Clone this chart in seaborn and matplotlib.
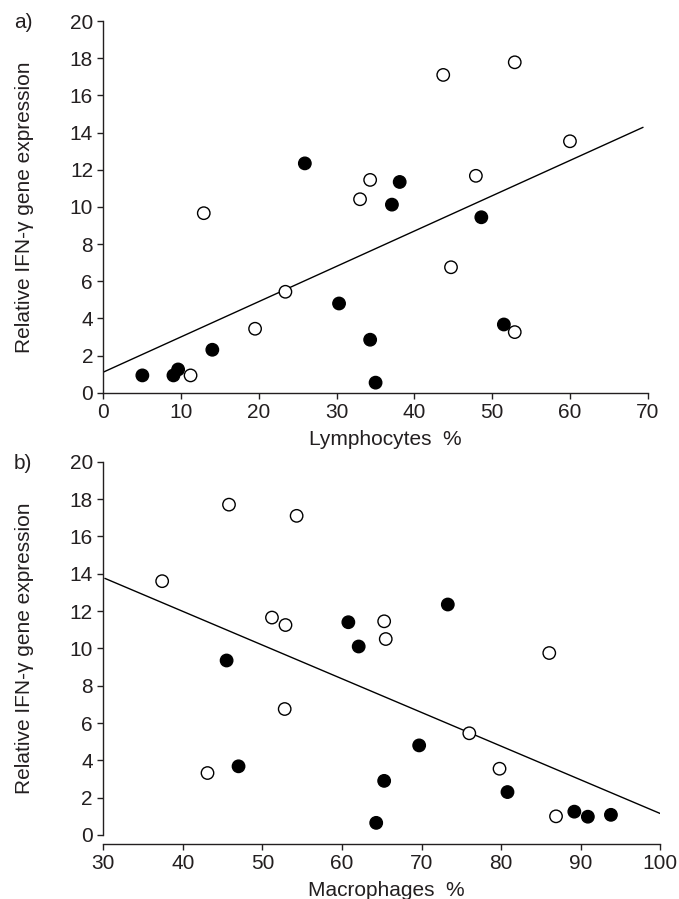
import pandas as pd
import numpy as np

import matplotlib
matplotlib.use("Agg")
import matplotlib.pyplot as plt
import seaborn as sns


# ### Data
# a) lymphocytes %  vs relative IFN-gamma expression
lymph_filled_x = [25.9, 38.1, 37.1, 48.6, 30.3, 34.3, 51.5, 14.0, 5.0, 9.0, 9.6, 35.0]
lymph_filled_y = [12.34, 11.34, 10.12, 9.44, 4.80, 2.85, 3.67, 2.31, 0.93, 0.93, 1.25, 0.54]
lymph_open_x = [12.9, 34.3, 33.0, 43.7, 52.9, 47.9, 60.0, 44.7, 23.4, 19.5, 52.9, 11.2]
lymph_open_y = [9.66, 11.45, 10.41, 17.1, 17.78, 11.67, 13.53, 6.75, 5.43, 3.44, 3.26, 0.93]
lymph_line_x = [0, 69.4]
lymph_line_y = [1.11, 14.28]

# b) macrophages %  vs relative IFN-gamma expression
macro_filled_x = [60.8, 62.1, 73.3, 45.5, 69.7, 80.8, 47.0, 65.3, 64.3, 89.2, 90.9, 93.8]
macro_filled_y = [11.40, 10.10, 12.35, 9.35, 4.80, 2.30, 3.68, 2.90, 0.65, 1.25, 0.98, 1.08]
macro_open_x = [45.8, 54.3, 37.4, 51.2, 52.9, 65.3, 65.5, 86.05, 52.8, 76.0, 79.8, 43.1, 86.9]
macro_open_y = [17.7, 17.1, 13.6, 11.65, 11.25, 11.45, 10.5, 9.75, 6.75, 5.45, 3.55, 3.32, 1.0]
macro_line_x = [30.2, 100]
macro_line_y = [13.75, 1.15]

y_ticks = list(range(0, 21, 2))
lymph_ticks = list(range(0, 71, 10))
macro_ticks = list(range(30, 101, 10))


def make_df(fx, fy, ox, oy):
    # one table per panel, "kind" tells filled from open circles
    df_f = pd.DataFrame({"x": fx, "y": fy, "kind": "filled"})
    df_o = pd.DataFrame({"x": ox, "y": oy, "kind": "open"})
    return pd.concat([df_f, df_o], ignore_index = True)


sns.set_theme(style = "ticks")
plt.rcParams["font.family"] = ["Liberation Sans", "DejaVu Sans"]
ink = "#231f20"
plt.rcParams.update({
    "axes.edgecolor": ink, "xtick.color": ink, "ytick.color": ink,
    "text.color": ink, "axes.labelcolor": ink,
    "xtick.labelsize": 15, "ytick.labelsize": 15, "axes.labelsize": 15,
    "axes.linewidth": 1.0, "xtick.major.width": 1.0, "ytick.major.width": 1.0,
    "xtick.major.size": 4, "ytick.major.size": 4,
})

fig = plt.figure(figsize = (6.79, 8.99), dpi = 100)
ax1 = fig.add_axes([0.1524, 0.5632, 0.8015, 0.4134])
ax2 = fig.add_axes([0.1521, 0.0712, 0.8203, 0.4152])

palette = {"filled": "black", "open": "white"}

panels = [
    (ax1, make_df(lymph_filled_x, lymph_filled_y, lymph_open_x, lymph_open_y),
     lymph_line_x, lymph_line_y, (0, 70), lymph_ticks, "Lymphocytes  %"),
    (ax2, make_df(macro_filled_x, macro_filled_y, macro_open_x, macro_open_y),
     macro_line_x, macro_line_y, (30, 100), macro_ticks, "Macrophages  %"),
]

for ax, df, lx, ly, xlim, xticks, xlabel in panels:
    sns.lineplot(x = lx, y = ly, color = "black", linewidth = 1.0, ax = ax)
    sns.scatterplot(data = df, x = "x", y = "y", hue = "kind", palette = palette,
                    edgecolor = "black", linewidth = 1.0, s = 80, legend = False,
                    ax = ax, zorder = 3)
    ax.set_xlim(*xlim)
    ax.set_ylim(0, 20)
    ax.set_xticks(xticks)
    ax.set_yticks(y_ticks)
    ax.set_xlabel(xlabel)
    ax.set_ylabel("Relative IFN-γ gene expression")
    sns.despine(ax = ax)

# panel b has its x axis pulled a bit below zero
ax2.spines["bottom"].set_position(("outward", 6.5))

# label placement to match the reference
ax1.yaxis.set_label_coords(-0.127, 0.5)
ax2.yaxis.set_label_coords(-0.124, 0.5)
ax1.xaxis.set_label_coords(0.518, -0.100)
ax2.xaxis.set_label_coords(0.509, -0.123)

fig.text(23 / 679, 1 - 23 / 899, "a)", fontsize = 15, ha = "center", va = "center")
fig.text(23 / 679, 1 - 463 / 899, "b)", fontsize = 15, ha = "center", va = "center")

fig.savefig("out.png", dpi = 100)
